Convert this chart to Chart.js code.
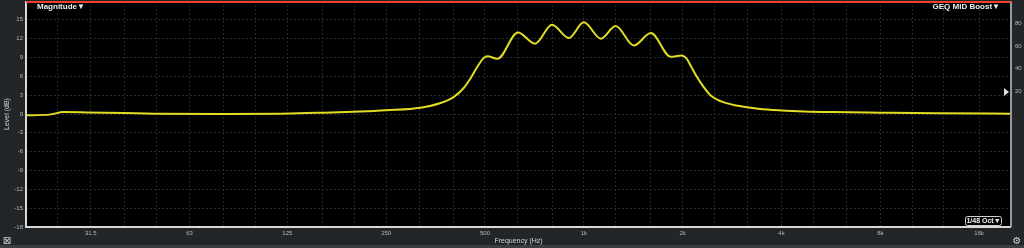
<!DOCTYPE html>
<html>
<head>
<meta charset="utf-8">
<script src="https://cdn.jsdelivr.net/npm/chart.js@4/dist/chart.umd.min.js"></script>
<style>
  html, body { margin: 0; padding: 0; background: #232629; }
  #wrap { width: 1024px; height: 248px; position: relative; }
</style>
</head>
<body>
<div id="wrap"><canvas id="chartMag"></canvas></div>
<script>
// curva de magnitude (Hz / dB)
const freqHz = [20, 23.6, 26, 30.6, 40, 49, 78, 120, 158, 209, 250, 318, 366, 401, 430, 452, 475, 495, 508,
  546, 630, 710, 800, 900, 1000, 1127, 1250, 1420, 1600, 1840, 1980, 2050, 2120, 2200, 2310, 2440,
  2620, 2950, 3400, 4000, 4700, 5680, 8000, 12000, 20000];
const levelDb = [-0.2, -0.1, 0.3, 0.25, 0.15, 0.05, 0.0, 0.05, 0.2, 0.4, 0.6, 1.0, 1.75, 2.7, 4.1, 5.7, 7.6, 8.9, 9.2,
  8.8, 13.0, 11.2, 14.2, 12.1, 14.6, 12.0, 14.0, 10.9, 12.9, 9.1, 9.3, 8.9, 7.6, 6.1, 4.4, 2.9,
  2.0, 1.3, 0.83, 0.56, 0.4, 0.3, 0.2, 0.1, 0.05];

// grade de 1/3 de oitava e rótulos das oitavas
const gridFreqs = [20, 25, 31.5, 40, 50, 63, 80, 100, 125, 160, 200, 250, 315, 400, 500, 630, 800, 1000,
  1250, 1600, 2000, 2500, 3150, 4000, 5000, 6300, 8000, 10000, 12500, 16000, 20000];
const octaveFreqs = [31.5, 63, 125, 250, 500, 1000, 2000, 4000, 8000, 16000];
const octaveLabels = ['31.5', '63', '125', '250', '500', '1k', '2k', '4k', '8k', '16k'];

const levelTicks = [-18, -15, -12, -9, -6, -3, 0, 3, 6, 9, 12, 15];
const rightTicks = [20, 40, 60, 80];

const tickFont = { family: 'Liberation Sans, Arial, sans-serif', size: 6 };
const gridColor = '#2a2a2a';

// fundo, moldura e textos
const panelPlugin = {
  id: 'panel',
  beforeDraw(chart) {
    const ctx = chart.ctx, a = chart.chartArea;
    ctx.save();
    ctx.fillStyle = '#232629';
    ctx.fillRect(0, 0, chart.width, chart.height);
    ctx.fillStyle = '#3a3e42';
    ctx.fillRect(0, 245, chart.width, 3);
    ctx.fillStyle = '#000';
    ctx.fillRect(a.left, a.top, a.right - a.left, a.bottom - a.top);
    ctx.restore();
  },
  afterDraw(chart) {
    const ctx = chart.ctx, a = chart.chartArea;
    ctx.save();
    // bordas
    ctx.lineWidth = 2;
    ctx.strokeStyle = '#d8d8d8';
    ctx.beginPath();
    ctx.moveTo(a.left, a.top); ctx.lineTo(a.left, a.bottom); ctx.lineTo(a.right, a.bottom);
    ctx.stroke();
    ctx.strokeStyle = '#9a9a9a';
    ctx.beginPath(); ctx.moveTo(a.right, a.top); ctx.lineTo(a.right, a.bottom); ctx.stroke();
    ctx.strokeStyle = '#f2402f';
    ctx.lineWidth = 2;
    ctx.beginPath(); ctx.moveTo(a.left, a.top + 1); ctx.lineTo(a.right, a.top + 1); ctx.stroke();

    // títulos no gráfico
    ctx.fillStyle = '#ececec';
    ctx.font = 'bold 8px Liberation Sans, Arial, sans-serif';
    ctx.textBaseline = 'middle';
    ctx.textAlign = 'left';
    ctx.fillText('Magnitude\u25BC', a.left + 11, 7);
    ctx.textAlign = 'right';
    ctx.fillText('GEQ MID Boost\u25BC', a.right - 11, 7);

    // caixa de suavização
    ctx.strokeStyle = '#d0d0d0';
    ctx.lineWidth = 1;
    ctx.beginPath();
    ctx.roundRect(965.5, 216.5, 36, 9, 2);
    ctx.stroke();
    ctx.font = 'bold 7px Liberation Sans, Arial, sans-serif';
    ctx.textAlign = 'center';
    ctx.fillText('1/48 Oct\u25BC', 983.5, 221.5);

    // marcador do eixo direito
    ctx.fillStyle = '#e0e0e0';
    ctx.beginPath();
    ctx.moveTo(1004, 88); ctx.lineTo(1009, 92); ctx.lineTo(1004, 96); ctx.closePath();
    ctx.fill();

    // ícones
    ctx.fillStyle = '#cfcfcf';
    ctx.font = '10px DejaVu Sans';
    ctx.fillText('\u22A0', 7, 241);
    ctx.fillText('\u2699', 1017, 241);
    ctx.restore();
  }
};

const labelFor = {};
octaveFreqs.forEach((f, i) => { labelFor[f] = octaveLabels[i]; });

// largura fixa dos eixos, sem a margem extra dos rótulos
const fixWidth = (w) => (s) => { s.width = w; s.paddingTop = 0; s.paddingBottom = 0; };

new Chart(document.getElementById('chartMag').getContext('2d'), {
  type: 'line',
  data: {
    datasets: [{
      label: 'Magnitude',
      data: freqHz.map((f, i) => ({ x: f, y: levelDb[i] })),
      borderColor: '#e2dc24',
      borderWidth: 2,
      pointRadius: 0,
      cubicInterpolationMode: 'monotone',
      fill: false
    }]
  },
  plugins: [panelPlugin],
  options: {
    responsive: true,
    maintainAspectRatio: false,
    animation: false,
    layout: { padding: { top: 1 } },
    plugins: { legend: { display: false }, tooltip: { enabled: false } },
    scales: {
      x: {
        type: 'logarithmic',
        min: 20, max: 20000,
        afterBuildTicks: (s) => { s.ticks = gridFreqs.map(v => ({ value: v })); },
        afterFit: (s) => { s.height = 21; s.paddingLeft = 0; s.paddingRight = 0; },
        ticks: {
          autoSkip: false, maxRotation: 0, padding: 3,
          color: '#b8b8b8', font: tickFont,
          callback: (v) => labelFor[v] || ''
        },
        grid: { color: gridColor, drawTicks: false },
        border: { display: false, dash: [2, 2] },
        title: { display: true, text: 'Frequency (Hz)', color: '#d0d0d0',
          font: { family: 'Liberation Sans, Arial, sans-serif', size: 7 }, padding: { top: 0, bottom: 3 } }
      },
      y: {
        min: -18, max: 18,
        afterBuildTicks: (s) => { s.ticks = levelTicks.concat([18]).map(v => ({ value: v })); },
        afterFit: fixWidth(26),
        ticks: { color: '#b8b8b8', font: tickFont, padding: 3,
          callback: (v) => (v === 18 ? '' : String(v)) },
        grid: { color: gridColor, drawTicks: false },
        border: { display: false, dash: [2, 2] },
        title: { display: true, text: 'Level (dB)', color: '#d0d0d0',
          font: { family: 'Liberation Sans, Arial, sans-serif', size: 7 }, padding: { top: 3, bottom: 0 } }
      },
      y2: {
        position: 'right',
        min: -100, max: 100,
        afterBuildTicks: (s) => { s.ticks = rightTicks.map(v => ({ value: v })); },
        afterFit: fixWidth(13),
        ticks: { color: '#b8b8b8', font: tickFont, padding: 4 },
        grid: { display: false, drawTicks: false },
        border: { display: false }
      }
    }
  }
});
</script>
</body>
</html>
